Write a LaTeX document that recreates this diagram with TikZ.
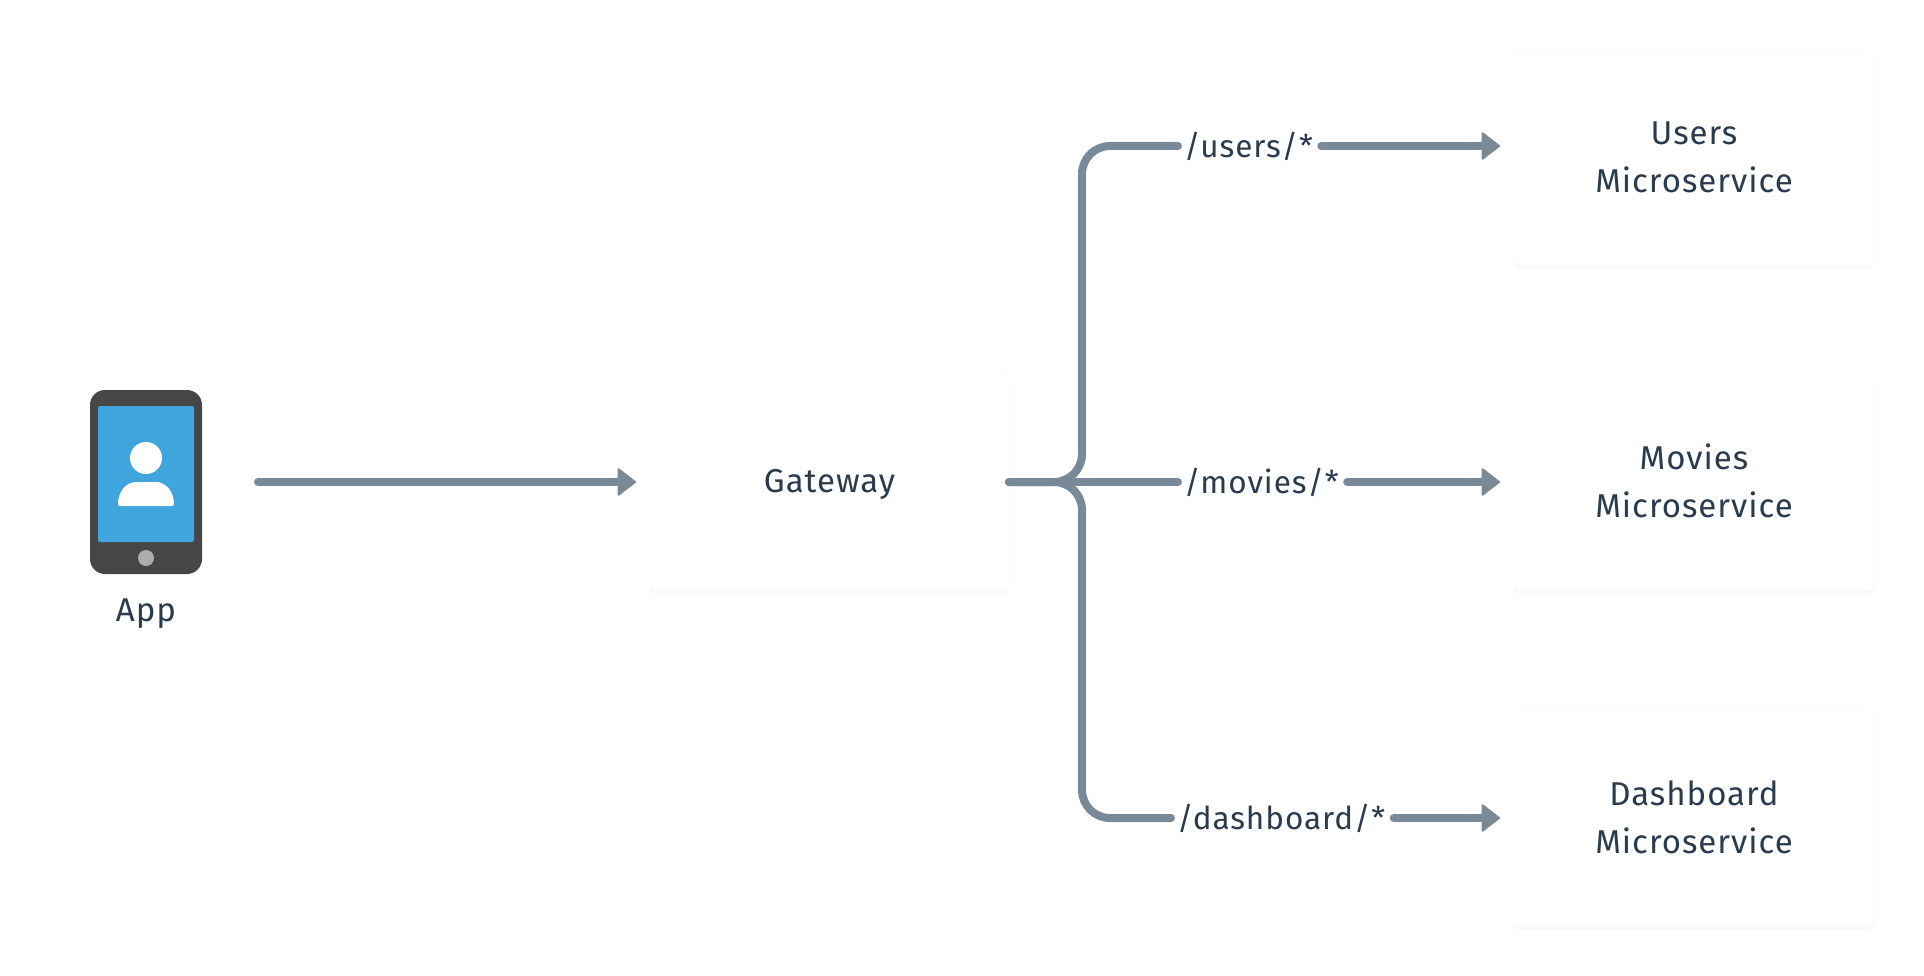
\documentclass[tikz,border=0pt]{standalone}
\usepackage{fontspec}
\setmainfont[LetterSpace=3]{Fira Sans}
\usetikzlibrary{arrows.meta,shadows}
\definecolor{linegrey}{HTML}{7A8999}
\definecolor{inkblue}{HTML}{293B4D}
\definecolor{phonedark}{HTML}{464646}
\definecolor{screenblue}{HTML}{41A5DD}
\definecolor{buttongrey}{HTML}{ADADAD}
\newcommand{\bstrut}{\rule[-4.6pt]{0pt}{32.6pt}}
\tikzset{
  x=1pt,y=1pt,
  every node/.style={font=\fontsize{33}{48}\selectfont,text=inkblue,inner sep=0pt,outer sep=0pt},
  card/.style={rectangle,rounded corners=6pt,fill=white,draw=black!1.5,line width=1pt,minimum height=217pt,align=center,
    general shadow={shadow yshift=-4pt,fill=black!2}},
  gatewaycard/.style={card,minimum width=359pt},
  servicecard/.style={card,minimum width=360pt},
  route/.style={font=\fontsize{31.5}{48}\selectfont,inner xsep=6pt,text height=29pt,text depth=6pt,execute at end node=\hspace{2.5pt}},
  wire/.style={draw=linegrey,line width=8pt,line cap=round},
  arrowwire/.style={wire,-{Triangle[length=19pt,width=29pt,line width=2pt,round,sep=0pt]},shorten >=14pt},
}
\begin{document}
\begin{tikzpicture}
\useasboundingbox (0,0) rectangle (1924,-976);
% phone
\node[rectangle,rounded corners=15pt,fill=phonedark,minimum width=112pt,minimum height=184pt] (app) at (146,-482) {};
\node[rectangle,rounded corners=2pt,fill=screenblue,minimum width=96pt,minimum height=136pt] (screen) at (146,-474) {};
\node[circle,fill=white,minimum size=32pt] (head) at (146,-458) {};
\node[circle,fill=buttongrey,minimum size=16pt] (button) at (146,-558) {};
\fill[white] (120,-506) -- (172,-506) to[out=0,in=-90] (174,-504) arc[start angle=0,end angle=90,x radius=18,y radius=22] -- (136,-482) arc[start angle=90,end angle=180,x radius=18,y radius=22] to[out=-90,in=180] (120,-506) -- cycle;
\node[anchor=base] (applabel) at (146,-621) {App};
% boxes
\node[gatewaycard] (gateway) at (829.5,-482) {\bstrut Gateway};
\node[servicecard] (users) at (1694,-157) {\bstrut Users\\\bstrut Microservice};
\node[servicecard] (movies) at (1694,-482) {\bstrut Movies\\\bstrut Microservice};
\node[servicecard] (dashboard) at (1694,-817.5) {\bstrut Dashboard\\\bstrut Microservice};
% route labels
\node[route,anchor=west] (usersroute) at (1178,-146) {/users/*};
\node[route,anchor=west] (moviesroute) at (1178,-482) {/movies/*};
\node[route,anchor=west] (dashroute) at (1171,-818) {/dashboard/*};
\coordinate (hub) at (1082,-482);
% connectors
\draw[arrowwire,shorten <=56pt] (app.east) -- (gateway.west);
\draw[wire] (gateway.east) -- (moviesroute.west);
\draw[wire,rounded corners=28pt] (gateway.east) -- (hub) -- (hub |- usersroute.west) -- (usersroute.west);
\draw[wire,rounded corners=28pt] (gateway.east) -- (hub) -- (hub |- dashroute.west) -- (dashroute.west);
\draw[arrowwire] (usersroute.east) -- (usersroute.east -| users.west);
\draw[arrowwire] (moviesroute.east) -- (moviesroute.east -| movies.west);
\draw[arrowwire] (dashroute.east) -- (dashroute.east -| dashboard.west);
\end{tikzpicture}
\end{document}
